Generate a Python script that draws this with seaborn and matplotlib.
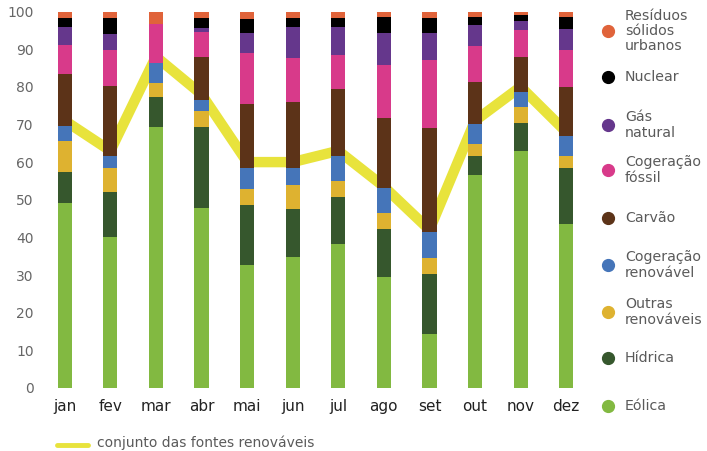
import numpy as np
import pandas as pd
import seaborn as sns
import matplotlib.pyplot as plt
from matplotlib.lines import Line2D

# data (percent of monthly production)
meses = ["jan", "fev", "mar", "abr", "mai", "jun", "jul", "ago", "set", "out", "nov", "dez"]
eolica = [49.1, 40.2, 69.4, 47.9, 32.7, 34.9, 38.2, 29.4, 14.3, 56.6, 63.0, 43.6]
hidrica = [8.3, 11.8, 7.8, 21.5, 15.9, 12.6, 12.6, 12.7, 15.9, 5.1, 7.4, 14.7]
outras_renov = [8.3, 6.3, 3.9, 4.2, 4.3, 6.5, 4.2, 4.3, 4.2, 3.1, 4.2, 3.3]
cog_renov = [3.9, 3.4, 5.3, 2.9, 5.6, 4.5, 6.6, 6.8, 7.1, 5.3, 4.0, 5.3]
carvao = [13.8, 18.5, 0.0, 11.5, 16.8, 17.5, 17.8, 18.6, 27.5, 11.3, 9.4, 13.0]
cog_fossil = [7.7, 9.6, 10.3, 6.6, 13.6, 11.7, 9.0, 14.0, 18.1, 9.5, 7.1, 9.9]
gas_natural = [4.8, 4.2, 0.0, 1.0, 5.5, 8.2, 7.5, 8.5, 7.3, 5.5, 2.5, 5.6]
nuclear = [2.5, 4.4, 0.0, 2.8, 3.6, 2.5, 2.5, 4.3, 4.0, 2.2, 1.4, 3.2]
residuos = [1.6, 1.6, 3.3, 1.6, 2.0, 1.6, 1.6, 1.4, 1.6, 1.4, 1.0, 1.4]
renovaveis = [71, 63, 88, 78, 60, 60, 63, 53.5, 42, 71, 80, 68]  # yellow line

fontes = ["Eólica", "Hídrica", "Outras\nrenováveis", "Cogeração\nrenovável", "Carvão",
          "Cogeração\nfóssil", "Gás\nnatural", "Nuclear", "Resíduos\nsólidos\nurbanos"]
valores = [eolica, hidrica, outras_renov, cog_renov, carvao, cog_fossil, gas_natural, nuclear, residuos]
cores = ["#82b941", "#36572d", "#deb230", "#4575b9", "#5c3318",
         "#d83a8a", "#65378c", "#000000", "#e0633a"]

sns.set_style("white")
plt.rcParams["font.family"] = ["DejaVu Sans"]
cinza = "#5a5a5a"

fig = plt.figure(figsize=(7.07, 4.51), dpi=100)
ax = fig.add_axes([0.0594, 0.1397, 0.7737, 0.8348])

# line behind the bars
sns.lineplot(x=np.arange(len(meses)), y=renovaveis, color="#e8e33c", linewidth=7.5,
             ax=ax, zorder=0.5, solid_joinstyle="miter")

# stacked bars: draw cumulative totals from top layer down
df = pd.DataFrame({f: v for f, v in zip(fontes, valores)}, index=meses)
cum = df.cumsum(axis=1)
for f, c in reversed(list(zip(fontes, cores))):
    sns.barplot(x=meses, y=cum[f].values, order=meses, color=c, width=0.31,
                saturation=1, linewidth=0, ax=ax, zorder=2)

ax.set_xlim(-0.5, 11.5)
ax.set_ylim(0, 100)
ax.set_yticks(range(0, 101, 10))
ax.tick_params(axis="y", length=0, pad=6, labelsize=10, labelcolor="#666666")
ax.tick_params(axis="x", length=0, pad=8, labelsize=11, labelcolor="#222222")
ax.set_xlabel("")
ax.set_ylabel("")
sns.despine(ax=ax, left=True, bottom=True)

# legend on the right
ys = [31, 77, 125, 170, 218, 265, 312, 358, 406]
for y, f, c in zip(ys, reversed(fontes), reversed(cores)):
    yf = 1 - y / 451
    fig.add_artist(Line2D([608 / 707], [yf], marker="o", markersize=8.5, color=c,
                          linestyle="none", transform=fig.transFigure))
    fig.text(625 / 707, yf, f, va="center", ha="left", fontsize=10.2, color=cinza,
             linespacing=1.1)

# bottom legend for the line
fig.add_artist(Line2D([57 / 707, 88 / 707], [1 - 445 / 451] * 2, color="#e8e33c",
                      linewidth=3.5, transform=fig.transFigure))
fig.text(97 / 707, 1 - 443 / 451, "conjunto das fontes renováveis", va="center",
         ha="left", fontsize=10, color=cinza)

fig.savefig("out.png", dpi=100)
